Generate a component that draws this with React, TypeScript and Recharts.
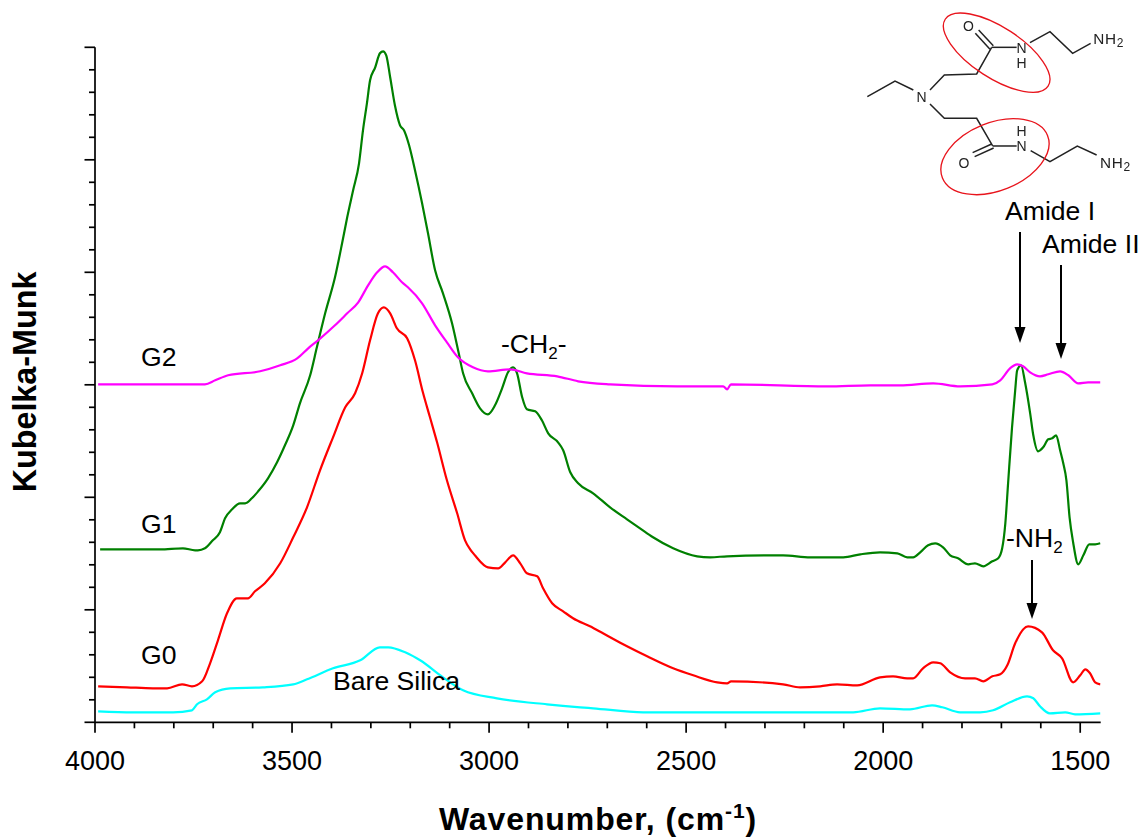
import React from "react";
import { LineChart, Line, XAxis, YAxis } from "recharts";

const g1Wave = [3987,3911,3835,3777,3746,3739,3721,3701,3683,3670,3652,3632,3619,3602,3586,3561,3538,3518,3497,3480,3454,3437,3416,3391,3373,3360,3345,3330,3320,3310,3302,3289,3277,3269,3261,3251,3239,3226,3216,3203,3188,3170,3155,3137,3117,3094,3077,3066,3043,3023,3003,2985,2967,2952,2939,2929,2916,2904,2883,2866,2850,2825,2812,2794,2774,2736,2693,2650,2617,2584,2533,2472,2439,2396,2254,2185,2101,2058,2008,1964,1939,1924,1906,1886,1868,1848,1830,1810,1784,1767,1746,1723,1708,1698,1690,1683,1673,1665,1660,1650,1640,1627,1619,1607,1594,1581,1571,1561,1551,1543,1535,1527,1518,1505,1492,1477,1462,1449];
const g1Vals = [173,173,173,174,172,172,174,182,190,204,213,219,219,224,231,244,260,277,297,319,347,375,409,445,479,505,532,559,592,619,642,655,669,671,667,645,617,597,592,577,552,519,489,452,429,399,369,349,329,314,308,317,334,350,355,349,325,313,311,302,289,280,272,250,239,229,215,203,194,185,174,166,165,166,167,165,165,168,170,169,165,165,170,177,179,175,167,164,158,159,156,161,164,174,199,239,295,332,352,357,340,309,287,271,275,283,284,287,272,259,242,205,180,158,167,178,178,179];

const g0Wave = [3992,3919,3853,3817,3779,3754,3728,3708,3688,3665,3640,3612,3594,3569,3530,3497,3462,3429,3396,3365,3340,3322,3302,3282,3267,3251,3234,3208,3188,3168,3150,3132,3107,3081,3061,3048,3036,3003,2977,2959,2939,2921,2904,2878,2863,2840,2812,2787,2744,2711,2650,2599,2533,2482,2421,2396,2386,2254,2211,2160,2117,2066,2008,1975,1939,1924,1899,1873,1855,1830,1792,1767,1746,1723,1703,1685,1665,1632,1597,1569,1546,1518,1500,1487,1475,1462,1449];
const g0Vals = [36,35,34,34,38,36,41,59,82,109,124,124,131,139,159,185,215,252,285,315,329,349,382,409,415,409,394,384,362,330,305,280,242,209,182,173,167,155,154,160,167,159,149,146,134,119,111,104,96,89,76,66,54,47,40,39,41,38,35,36,38,37,45,46,44,44,54,60,59,50,44,44,41,46,48,57,79,96,90,72,64,40,47,53,49,40,38];

const g2Wave = [3992,3721,3695,3662,3581,3530,3487,3459,3434,3391,3360,3332,3307,3284,3264,3244,3221,3206,3170,3137,3107,3079,3041,3003,2947,2904,2827,2774,2693,2523,2406,2396,2386,2142,2033,1957,1873,1805,1723,1703,1678,1660,1645,1627,1602,1581,1551,1530,1505,1480,1449];
const g2Vals = [338,338,342,347,351,357,364,374,382,397,409,420,437,450,456,450,440,435,419,397,380,365,355,351,353,349,346,341,338,336,336,333,338,336,337,337,339,336,338,342,354,358,356,350,346,348,351,347,339,340,340];

const silicaWave = [3992,3904,3802,3754,3741,3716,3695,3657,3574,3497,3462,3396,3327,3277,3256,3213,3175,3117,3066,2980,2853,2769,2736,2609,2406,2076,2008,1932,1876,1850,1805,1754,1721,1678,1635,1619,1602,1577,1538,1513,1449];
const silicaVals = [11,10,10,12,18,23,30,34,35,38,43,54,62,75,75,70,62,45,32,24,18,15,14,10,10,10,14,13,17,15,10,10,12,20,26,24,16,9,10,8,9];

const xMajor = [4000, 3500, 3000, 2500, 2000, 1500];
const xMinor = [3900,3800,3700,3600,3400,3300,3200,3100,2900,2800,2700,2600,2400,2300,2200,2100,1900,1800,1700,1600];
const xTicks = [...xMajor, ...xMinor];
const yMajor = [0, 112.5, 225, 337.5, 450, 562.5, 675];
const yMinor = [22.5,45,67.5,90,135,157.5,180,202.5,247.5,270,292.5,315,360,382.5,405,427.5,472.5,495,517.5,540,585,607.5,630,652.5];
const yTicks = [...yMajor, ...yMinor];

const zip = (w: number[], v: number[]) => w.map((x, i) => ({ x, y: v[i] }));
const FONT = "'Liberation Sans', Arial, sans-serif";

const XTick = (p: any) => {
  const major = xMajor.includes(p.payload.value);
  return (
    <g>
      <line x1={p.x} x2={p.x} y1={p.y} y2={p.y + (major ? 10.5 : 6)} stroke="#000" strokeWidth={1.7} />
      {major && (
        <text x={p.x} y={p.y + 48} textAnchor="middle" fontFamily={FONT} fontSize={27} fill="#000">
          {p.payload.value}
        </text>
      )}
    </g>
  );
};

const YTick = (p: any) => {
  const major = yMajor.includes(p.payload.value);
  return <line x1={p.x} x2={p.x - (major ? 10.5 : 6)} y1={p.y} y2={p.y} stroke="#000" strokeWidth={1.7} />;
};

const Arrow = ({ x, y1, y2 }: { x: number; y1: number; y2: number }) => (
  <g>
    <line x1={x} x2={x} y1={y1} y2={y2 - 14} stroke="#000" strokeWidth={2} />
    <polygon points={`${x - 5.5},${y2 - 16} ${x + 5.5},${y2 - 16} ${x},${y2}`} fill="#000" />
  </g>
);

const Molecule = () => {
  const lines = [
    "52,290 135,243 190,270",
    "240,270 283,225 380,222 425,142",
    "425,142 500,142",
    "540,128 600,95 668,160 722,130",
    "240,312 283,355 380,355 428,438",
    "428,438 500,438",
    "542,452 600,485 682,438 740,465",
    "420,148 376,100",
    "430,137 386,90",
    "425,432 368,458",
    "431,444 374,470",
  ];
  const labels: [string, number, number][] = [
    ["O", 355, 93], ["N", 515, 158], ["H", 515, 204], ["N", 215, 307],
    ["H", 515, 408], ["N", 515, 454], ["O", 342, 503],
  ];
  return (
    <g transform="translate(850,0) scale(0.3333)" style={{ filter: "blur(0.35px)" }}>
      {lines.map((l, i) => (
        <polyline key={i} points={l} fill="none" stroke="#222" strokeWidth={4.5} />
      ))}
      {labels.map(([t, x, y], i) => (
        <text key={i} x={x} y={y} textAnchor="middle" fontFamily={FONT} fontSize={42} fill="#222">{t}</text>
      ))}
      <text x={730} y={133} fontFamily={FONT} fontSize={46} letterSpacing={2} fill="#222">NH<tspan fontSize={36} dy={8}>2</tspan></text>
      <text x={750} y={505} fontFamily={FONT} fontSize={46} letterSpacing={2} fill="#222">NH<tspan fontSize={36} dy={8}>2</tspan></text>
      <ellipse cx={440} cy={158} rx={184} ry={76} transform="rotate(33 440 158)" fill="none" stroke="#e8141c" strokeWidth={4} />
      <ellipse cx={435} cy={470} rx={170} ry={102} transform="rotate(-22 435 470)" fill="none" stroke="#e8141c" strokeWidth={4} />
    </g>
  );
};

const Label = ({ x, y, children }: { x: number; y: number; children: React.ReactNode }) => (
  <text x={x} y={y} fontFamily={FONT} fontSize={26.6} fill="#000">{children}</text>
);

export default function App() {
  return (
    <div style={{ position: "absolute", left: 0, top: 0, width: 1143, height: 839, background: "#fff" }}>
      <LineChart width={1143} height={839} margin={{ top: 47.3, right: 42.3, bottom: 0, left: 0 }}>
        <XAxis
          type="number"
          dataKey="x"
          domain={[1448, 4000]}
          reversed
          ticks={xTicks}
          interval={0}
          height={116.7}
          tick={XTick}
          tickLine={false}
          tickSize={0}
          tickMargin={0}
          axisLine={{ stroke: "#000", strokeWidth: 1.7 }}
          allowDataOverflow
        />
        <YAxis
          type="number"
          domain={[0, 675]}
          ticks={yTicks}
          interval={0}
          width={95}
          tick={YTick}
          tickLine={false}
          tickSize={0}
          tickMargin={0}
          axisLine={{ stroke: "#000", strokeWidth: 1.7 }}
          allowDataOverflow
        />
        <Line data={zip(silicaWave, silicaVals)} dataKey="y" stroke="#00ffff" strokeWidth={2.2} dot={false} type="monotone" isAnimationActive={false} />
        <Line data={zip(g0Wave, g0Vals)} dataKey="y" stroke="#ff0000" strokeWidth={2.2} dot={false} type="monotone" isAnimationActive={false} />
        <Line data={zip(g1Wave, g1Vals)} dataKey="y" stroke="#008000" strokeWidth={2.2} dot={false} type="monotone" isAnimationActive={false} />
        <Line data={zip(g2Wave, g2Vals)} dataKey="y" stroke="#ff00ff" strokeWidth={2.2} dot={false} type="monotone" isAnimationActive={false} />
      </LineChart>
      <svg width={1143} height={839} style={{ position: "absolute", left: 0, top: 0, pointerEvents: "none" }}>
        <Molecule />
        <Label x={141} y={366}>G2</Label>
        <Label x={141} y={533}>G1</Label>
        <Label x={141} y={664}>G0</Label>
        <Label x={333} y={690}>Bare Silica</Label>
        <Label x={501} y={353}>-CH<tspan fontSize={17} dy={6}>2</tspan><tspan dy={-6}>-</tspan></Label>
        <Label x={1005} y={220}>Amide I</Label>
        <Label x={1042} y={253}>Amide II</Label>
        <Label x={1006} y={547}>-NH<tspan fontSize={17} dy={6}>2</tspan></Label>
        <Arrow x={1020} y1={232} y2={343} />
        <Arrow x={1061} y1={265} y2={359} />
        <Arrow x={1032} y1={560} y2={619} />
        <text transform="translate(36 382) rotate(-90)" textAnchor="middle" fontFamily={FONT} fontSize={32.3} fontWeight="bold" fill="#000">Kubelka-Munk</text>
        <text x={598} y={830} textAnchor="middle" fontFamily={FONT} fontSize={32} letterSpacing={0.9} fontWeight="bold" fill="#000">
          Wavenumber, (cm<tspan fontSize={21} dy={-12}>-1</tspan><tspan dy={12}>)</tspan>
        </text>
      </svg>
    </div>
  );
}
